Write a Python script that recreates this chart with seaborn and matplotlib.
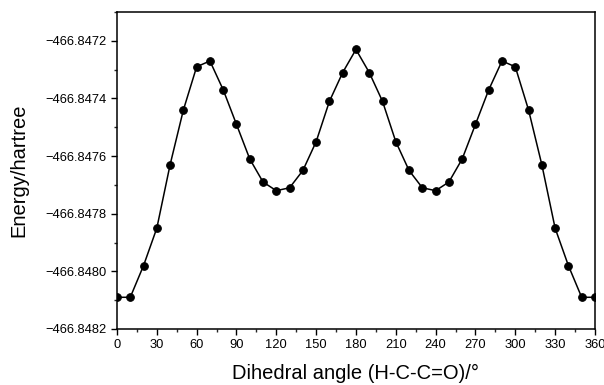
import numpy as np
import pandas as pd
import matplotlib
matplotlib.use('Agg')
import matplotlib.pyplot as plt
import matplotlib.ticker as mticker
import seaborn as sns

# dihedral scan, values
angle = [0, 10, 20, 30, 40, 50, 60, 70, 80, 90, 100, 110, 120, 130, 140, 150, 160, 170, 180,
         190, 200, 210, 220, 230, 240, 250, 260, 270, 280, 290, 300, 310, 320, 330, 340, 350, 360]
energy = [-466.84809, -466.84809, -466.84798, -466.84785, -466.84763, -466.84744, -466.84729,
          -466.84727, -466.84737, -466.84749, -466.84761, -466.84769, -466.84772, -466.84771,
          -466.84765, -466.84755, -466.84741, -466.84731, -466.84723, -466.84731, -466.84741,
          -466.84755, -466.84765, -466.84771, -466.84772, -466.84769, -466.84761, -466.84749,
          -466.84737, -466.84727, -466.84729, -466.84744, -466.84763, -466.84785, -466.84798,
          -466.84809, -466.84809]
x_ticks = [0, 30, 60, 90, 120, 150, 180, 210, 240, 270, 300, 330, 360]
y_ticks = [-466.8482, -466.8480, -466.8478, -466.8476, -466.8474, -466.8472]

df = pd.DataFrame({"angle": angle, "energy": energy})

sns.set_theme(style="ticks")
plt.rcParams['font.family'] = ['Liberation Sans', 'DejaVu Sans']

fig = plt.figure(figsize=(6.04, 3.85), dpi=100)
ax = fig.add_axes([0.1937, 0.1455, 0.7913, 0.8233])

sns.lineplot(data=df, x="angle", y="energy", ax=ax, color="black", linewidth=1.1,
             marker="o", markersize=5.5, markeredgecolor="black", estimator=None, sort=False)

ax.set_xlim(0, 360)
ax.set_ylim(-466.8482, -466.8471)
ax.set_xticks(x_ticks)
ax.set_yticks(y_ticks)
ax.xaxis.set_minor_locator(mticker.MultipleLocator(15))
ax.yaxis.set_minor_locator(mticker.MultipleLocator(0.0001))
ax.yaxis.set_major_formatter(mticker.FuncFormatter(lambda v, p: f"{v:.4f}".replace("-", "\u2212")))

ax.tick_params(axis="both", which="major", direction="out", length=4, width=1,
               labelsize=9.3, colors="black")
ax.tick_params(axis="both", which="minor", direction="out", length=2.5, width=1)
for s in ax.spines.values():
    s.set_linewidth(1.1)
    s.set_color("black")

ax.set_xlabel("Dihedral angle (H-C-C=O)/°", fontsize=14.5, labelpad=9, color="black")
ax.set_ylabel("Energy/hartree", fontsize=14.5, labelpad=12, color="black")

fig.savefig("out.png", dpi=100)
plt.close(fig)
